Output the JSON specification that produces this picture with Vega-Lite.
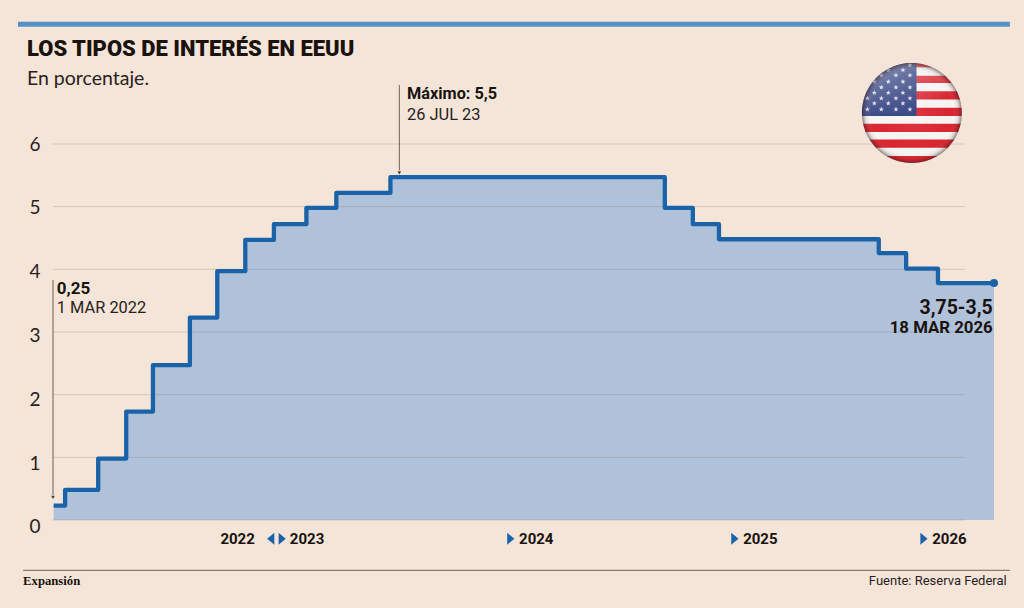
{"$schema":"https://vega.github.io/schema/vega-lite/v6.json","width":941,"height":376,"autosize":{"type":"none"},"padding":{"left":53,"top":144,"right":30,"bottom":88},"background":"#f5e5d9","config":{"view":{"stroke":null}},"title":{"text":"LOS TIPOS DE INTERÉS EN EEUU","subtitle":"En porcentaje.","anchor":"start","frame":"group","dx":-26,"offset":-68,"font":"Roboto","fontSize":22,"fontWeight":900,"color":"#1a120c","subtitleFont":"Lato","subtitleFontSize":19.5,"subtitleColor":"#2a211a","subtitlePadding":9},"datasets":{"rates":[{"date":"2022-03-02","rate":0.23},{"date":"2022-03-20","rate":0.48},{"date":"2022-05-11","rate":0.98},{"date":"2022-06-24","rate":1.73},{"date":"2022-08-05","rate":2.47},{"date":"2022-10-02","rate":3.23},{"date":"2022-11-14","rate":3.97},{"date":"2022-12-28","rate":4.47},{"date":"2023-02-11","rate":4.72},{"date":"2023-04-03","rate":4.98},{"date":"2023-05-20","rate":5.22},{"date":"2023-08-13","rate":5.47},{"date":"2024-10-17","rate":4.98},{"date":"2024-11-30","rate":4.72},{"date":"2025-01-10","rate":4.48},{"date":"2025-09-18","rate":4.26},{"date":"2025-10-31","rate":4.01},{"date":"2025-12-20","rate":3.78},{"date":"2026-03-18","rate":3.78}]},"encoding":{"x":{"field":"date","type":"temporal","axis":null,"scale":{"domain":["2022-03-01","2026-03-18"]}},"y":{"field":"rate","type":"quantitative","scale":{"domain":[0,6],"nice":false},"axis":{"title":null,"values":[0,1,2,3,4,5,6],"domain":false,"ticks":false,"grid":false,"labelPadding":13,"labelFont":"Lato","labelFontSize":19,"labelColor":"#2a211a","labelOffset":{"expr":"(6-datum.value)*1.15"}}}},"layer":[{"data":{"name":"rates"},"mark":{"type":"area","interpolate":"step-after","color":"#b0c2da"}},{"data":{"values":[{"date":"2022-03-01","end":"2026-01-31","rate":0},{"date":"2022-03-01","end":"2026-01-31","rate":1},{"date":"2022-03-01","end":"2026-01-31","rate":2},{"date":"2022-03-01","end":"2026-01-31","rate":3},{"date":"2022-03-01","end":"2026-01-31","rate":4},{"date":"2022-03-01","end":"2026-01-31","rate":5},{"date":"2022-03-01","end":"2026-01-31","rate":6}]},"mark":{"type":"rule","color":"#7d6c60","opacity":0.26,"strokeWidth":1},"encoding":{"x2":{"field":"end"}}},{"data":{"name":"rates"},"mark":{"type":"line","interpolate":"step-after","color":"#1a63a8","strokeWidth":4.3,"strokeJoin":"round"}},{"data":{"values":[{"date":"2026-03-18","rate":3.78}]},"mark":{"type":"point","filled":true,"opacity":1,"color":"#1a63a8","size":64}},{"data":{"values":[{"date":"2023-08-27","rate":6.94,"bottom":5.58},{"date":"2022-03-01","rate":3.83,"bottom":0.4}]},"mark":{"type":"rule","color":"#6f6057","strokeWidth":1},"encoding":{"y2":{"field":"bottom"}}},{"data":{"values":[{"date":"2023-08-27","rate":5.54},{"date":"2022-03-01","rate":0.36}]},"mark":{"type":"point","filled":true,"opacity":1,"color":"#4a3d34","shape":"triangle-down","size":14}},{"data":{"values":[{"date":"2022-01-05","end":"2026-04-12","rate":7.91}]},"mark":{"type":"rule","color":"#5591c5","strokeWidth":5},"encoding":{"x2":{"field":"end"}}},{"data":{"values":[{"date":"2022-01-13","end":"2026-04-12","rate":-0.803}]},"mark":{"type":"rule","color":"#8a7a6e","strokeWidth":1.2},"encoding":{"x2":{"field":"end"}}},{"data":{"values":[{"date":"2023-02-24","rate":-0.3},{"date":"2024-02-18","rate":-0.3},{"date":"2025-02-04","rate":-0.3},{"date":"2025-11-28","rate":-0.3}]},"mark":{"type":"point","filled":true,"opacity":1,"color":"#1a63a8","shape":"M-.6,-1L.6,0L-.6,1Z","size":144}},{"data":{"values":[{"date":"2023-02-06","rate":-0.3}]},"mark":{"type":"point","filled":true,"opacity":1,"color":"#1a63a8","shape":"M.6,-1L-.6,0L.6,1Z","size":144}},{"data":{"values":[{"date":"2023-03-08","rate":-0.3,"label":"2023"},{"date":"2024-03-02","rate":-0.3,"label":"2024"},{"date":"2025-02-17","rate":-0.3,"label":"2025"},{"date":"2025-12-11","rate":-0.3,"label":"2026"}]},"mark":{"type":"text","align":"left","baseline":"middle","font":"Roboto","fontWeight":"bold","fontSize":15,"color":"#1a120c"},"encoding":{"text":{"field":"label"}}},{"data":{"values":[{"date":"2023-01-12","rate":-0.3,"label":"2022"}]},"mark":{"type":"text","align":"right","baseline":"middle","font":"Roboto","fontWeight":"bold","fontSize":15,"color":"#1a120c"},"encoding":{"text":{"field":"label"}}},{"data":{"values":[{"date":"2023-09-08","rate":6.8,"label":"Máximo: 5,5"}]},"mark":{"type":"text","align":"left","baseline":"middle","font":"Roboto","fontWeight":"bold","fontSize":16.3,"color":"#1a120c"},"encoding":{"text":{"field":"label"}}},{"data":{"values":[{"date":"2022-03-07","rate":3.69,"label":"0,25"}]},"mark":{"type":"text","align":"left","baseline":"middle","font":"Roboto","fontWeight":"bold","fontSize":17,"color":"#1a120c"},"encoding":{"text":{"field":"label"}}},{"data":{"values":[{"date":"2023-09-08","rate":6.46,"label":"26 JUL 23"},{"date":"2022-03-07","rate":3.38,"label":"1 MAR 2022"}]},"mark":{"type":"text","align":"left","baseline":"middle","font":"Roboto","fontWeight":400,"fontSize":16.4,"color":"#2a211a"},"encoding":{"text":{"field":"label"}}},{"data":{"values":[{"date":"2026-03-16","rate":3.38,"label":"3,75-3,5"}]},"mark":{"type":"text","align":"right","baseline":"middle","font":"Roboto","fontWeight":"bold","fontSize":19.5,"color":"#1a120c"},"encoding":{"text":{"field":"label"}}},{"data":{"values":[{"date":"2026-03-16","rate":3.06,"label":"18 MAR 2026"}]},"mark":{"type":"text","align":"right","baseline":"middle","font":"Roboto","fontWeight":"bold","fontSize":16.8,"color":"#1a120c"},"encoding":{"text":{"field":"label"}}},{"data":{"values":[{"date":"2026-04-07","rate":-0.973,"label":"Fuente:  Reserva Federal"}]},"mark":{"type":"text","align":"right","baseline":"middle","font":"Roboto","fontSize":13,"color":"#2a211a"},"encoding":{"text":{"field":"label"}}},{"data":{"values":[{"date":"2022-01-13","rate":-0.973,"label":"Expansión"}]},"mark":{"type":"text","align":"left","baseline":"middle","font":"Liberation Serif","fontWeight":"bold","fontSize":12.7,"color":"#1a120c"},"encoding":{"text":{"field":"label"}}},{"data":{"values":[{"date":"2025-11-09","rate":6.494}]},"mark":{"type":"point","filled":true,"opacity":1,"color":"#f6f4f2","shape":"circle","size":10000}},{"data":{"values":[{"date":"2025-11-09","rate":6.494}]},"mark":{"type":"point","filled":true,"opacity":1,"color":"#d9252f","size":10000,"shape":"M-.406,-.914A1,1 0 0 1 .406,-.914ZM-.664,-.748L-.798,-.603L.798,-.603L.664,-.748ZM-.899,-.437L-.962,-.272L.962,-.272L.899,-.437ZM-.994,-.106L-.998,.06L.998,.06L.994,-.106ZM-.977,.212L-.926,.377L.926,.377L.977,.212ZM-.848,.53L-.719,.695L.719,.695L.848,.53ZM-.509,.861A1,1 0 0 0 .509,.861Z"}},{"data":{"values":[{"date":"2025-11-09","rate":6.494}]},"mark":{"type":"point","filled":true,"opacity":1,"color":"#2b3a7c","size":10000,"shape":"M.093,-.996A1,1 0 0 0 -.998,.06L.093,.06Z"}},{"data":{"values":[{"date":"2025-08-31","rate":6.553},{"date":"2025-09-22","rate":6.553},{"date":"2025-10-15","rate":6.553},{"date":"2025-11-06","rate":6.553},{"date":"2025-09-11","rate":6.649},{"date":"2025-10-03","rate":6.649},{"date":"2025-10-26","rate":6.649},{"date":"2025-08-31","rate":6.729},{"date":"2025-09-22","rate":6.729},{"date":"2025-10-15","rate":6.729},{"date":"2025-11-06","rate":6.729},{"date":"2025-09-11","rate":6.818},{"date":"2025-10-03","rate":6.818},{"date":"2025-10-26","rate":6.818},{"date":"2025-09-22","rate":6.904},{"date":"2025-10-15","rate":6.904},{"date":"2025-11-06","rate":6.904},{"date":"2025-09-11","rate":6.994},{"date":"2025-10-03","rate":6.994},{"date":"2025-10-26","rate":6.994},{"date":"2025-09-22","rate":7.096},{"date":"2025-10-15","rate":7.096},{"date":"2025-11-06","rate":7.096},{"date":"2025-10-03","rate":7.18},{"date":"2025-10-26","rate":7.18},{"date":"2025-11-06","rate":7.26}]},"mark":{"type":"point","filled":true,"opacity":1,"color":"#dfe2ec","size":30,"shape":"M0,-1L.224,-.309L.951,-.309L.363,.118L.588,.809L0,.382L-.588,.809L-.363,.118L-.951,-.309L-.224,-.309Z"}},{"data":{"values":[{"date":"2025-11-09","rate":6.494}]},"mark":{"type":"point","filled":true,"opacity":1,"shape":"circle","size":10000,"color":{"gradient":"linear","x1":0.3,"y1":0,"x2":0.5,"y2":0.5,"stops":[{"offset":0,"color":"rgba(255,255,255,0.4)"},{"offset":1,"color":"rgba(255,255,255,0)"}]}}},{"data":{"values":[{"date":"2025-11-09","rate":6.494}]},"mark":{"type":"point","filled":true,"opacity":1,"shape":"circle","size":10000,"color":{"gradient":"radial","x1":0.5,"y1":0.5,"x2":0.5,"y2":0.5,"r1":0,"r2":0.5,"stops":[{"offset":0,"color":"rgba(255,255,255,0.08)"},{"offset":0.82,"color":"rgba(255,255,255,0)"},{"offset":0.93,"color":"rgba(60,40,40,0.12)"},{"offset":1,"color":"rgba(40,20,20,0.5)"}]}}}]}
